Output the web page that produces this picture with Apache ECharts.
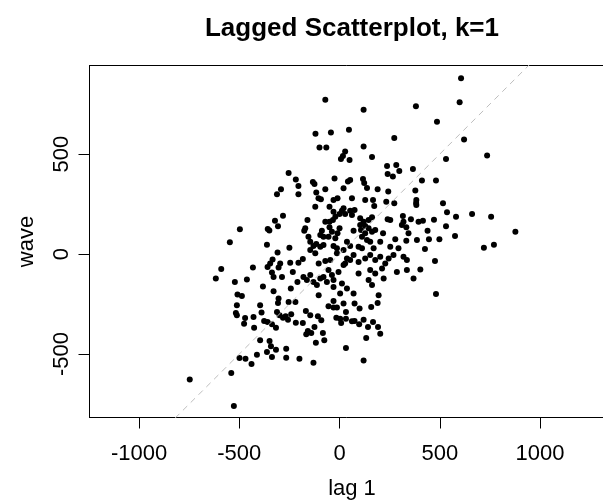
<!DOCTYPE html>
<html>
<head>
<meta charset="utf-8">
<script src="https://cdn.jsdelivr.net/npm/echarts@6/dist/echarts.min.js"></script>
<style>
html,body{margin:0;padding:0;background:#fff;}
#chart{width:603px;height:504px;}
</style>
</head>
<body>
<div id="chart"></div>
<script>
// lagged values (x) and current values (y)
const lag1 = [
  606,599,486,621,531,736,411,481,516,536, 581,661,756,416,471,439,531,576,877,446, 498,426,720,770,476,403,481,
  -71,120,381,-120,-43,47,273,
  -100,-66,120,28,17,7,50,162,237,283,
  298,240,266,366,-133,-125,-25,53,42,117,
  123,137,190,243,-116,-71,20,-105,-93,-30,
  -10,62,128,167,173,233,273,383,383,378,
  -121,-50,20,12,0,28,53,75,62,-30,
  -21,-71,-50,-33,-160,-171,-176,-88,-96,-80,
  -50,-38,-55,-21,0,-10,70,103,120,145,
  162,103,128,145,107,128,162,112,137,178,
  240,253,217,278,316,356,319,333,311,394,
  344,333,386,253,203,294,-155,-146,-130,-116,
  -96,-80,-30,-13,37,53,95,112,153,170,382,
  -254,-218,-205,-205,-292,-312,-282,-322,-358,-350, -307,-497,-547,-362,
  -250,-309,-205,-246,-334,-346,-359,-296,-304,-432,
  -590,-617,-522,-462,-382,-337,-329,-287,-243,-210,
  -233,-329,-304,-307,-254,-220,-509,-487,-512,-517,
  -512,-471,-476,-429,-426,-396,-389,-376,-359,-337,
  -317,-312,-299,-282,-269,-257,-241,-218,-396,-349,
  -342,-317,-362,-337,-266,-266,-200,-412,-499,-469,
  -439,-540,-747,-527,
  -30,20,75,100,158,190,-55,-30,-13,-168,
  -146,-108,-91,-183,-125,-158,-166,-141,-83,-118,
  -76,-16,3,8,32,32,62,75,98,120,
  142,167,192,203,133,32,-130,120,
  -183,-146,-121,-104,-71,-46,-13,20,37,28,
  53,70,95,128,153,178,203,228,245,269,
  319,336,-180,-163,-146,-130,-113,-96,-80,-63,
  -38,-30,-55,-5,20,95,153,178,212,220,
  145,162,286,336,369,-30,12,37,70,3,-104,195
];
const wave = [
  879,759,662,573,476,493,368,368,254,209, 187,201,187,167,172,117,139,90,112,74, 74,25,32,47,-35,-77,-199,
  772,722,739,602,608,622,580,
  533,533,538,513,491,475,471,485,441,446,
  416,400,388,426,360,350,378,371,363,375,
  355,330,324,313,308,324,329,279,274,271,
  279,279,271,271,241,262,254,271,246,318,
  237,237,229,217,201,201,217,221,196,212,
  187,162,162,171,171,129,117,117,95,87,
  134,112,87,79,129,104,117,179,162,171,
  184,145,140,129,120,104,112,87,70,120,
  174,171,104,74,191,174,162,134,145,162,
  104,67,70,37,62,29,87,62,40,50,
  37,45,40,29,62,40,37,29,62,29,256,
  406,373,341,299,324,299,192,167,126,118, 139,124,59,47,
  32,8,-43,-43,-27,-47,-64,-47,-67,-67,
  -75,-122,-139,-127,-162,-92,-114,-114,-172,-139,
  -89,-186,-222,-244,-239,-239,-202,-209,-256,-294,
  -306,-319,-348,-314,-368,-256,-292,-334,-339,-351,
  -368,-289,-306,-318,-311,-328,-301,-343,-431,-435,
  -461,-478,-490,-515,-473,-518,-523,-503,-520,-523,
  -550,-595,-627,-759,
  -234,-247,-247,-272,-264,-244,-261,-267,-267,-284,
  -306,-311,-331,-344,-365,-385,-401,-395,-395,-443,
  -431,-318,-323,-344,-323,-289,-336,-334,-351,-328,
  -364,-339,-364,-398,-420,-470,-543,-532,
  -25,20,4,-47,-35,-30,4,20,-22,-47,
  -30,-5,-39,-22,-5,-30,-13,-47,-22,-5,
  -13,-30,-114,-130,-105,-139,-155,-122,-114,-139,
  -105,-130,-80,-89,-55,-97,-80,-97,-72,-122,
  -130,-155,-89,-80,-122,-164,-147,-172,-197,-197,-206,-206
];
const xTicks = [-1000, -500, 0, 500, 1000];
const yTicks = [-500, 0, 500];
const refIntercept = 0;
const refSlope = 1;

// visible axis window (the plot box continues past the right edge of the image)
const xMin = -1247, xMax = 1314;
const yMin = -817, yMax = 943;

const points = lag1.map((v, i) => [v, wave[i]]);
const refLine = [[xMin, refIntercept + refSlope * xMin], [xMax, refIntercept + refSlope * xMax]];

const FONT = 'Liberation Sans, Arial, Helvetica, sans-serif';
const plain = v => String(v);
const chart = echarts.init(document.getElementById('chart'), null, {renderer: 'canvas'});
chart.setOption({
  animation: false,
  backgroundColor: '#ffffff',
  title: {
    text: 'Lagged Scatterplot, k=1',
    left: 352,
    textAlign: 'center',
    top: 16,
    padding: 0,
    textStyle: {fontFamily: FONT, fontSize: 26, fontWeight: 'bold', color: '#000'}
  },
  grid: {left: 89.5, top: 65.5, right: 0, bottom: 86.5, show: false},
  graphic: [{
    type: 'text', x: 352, y: 489, silent: true,
    style: {text: 'lag 1', font: '22px ' + FONT, fill: '#000', align: 'center', verticalAlign: 'middle'}
  }],
  xAxis: [{
    type: 'value', min: xMin, max: xMax, position: 'bottom',
    axisLine: {show: true, onZero: false, lineStyle: {color: '#000', width: 1}},
    splitLine: {show: false},
    axisTick: {show: true, length: 11, customValues: xTicks, lineStyle: {color: '#000', width: 1}},
    axisLabel: {customValues: xTicks, formatter: plain, margin: 25, fontFamily: FONT, fontSize: 22, color: '#000'}
  }, {
    type: 'value', min: xMin, max: xMax, position: 'top',
    axisLine: {show: true, onZero: false, lineStyle: {color: '#000', width: 1}},
    splitLine: {show: false}, axisTick: {show: false}, axisLabel: {show: false}
  }],
  yAxis: {
    type: 'value', min: yMin, max: yMax,
    name: 'wave', nameLocation: 'middle', nameGap: 52, nameRotate: 90,
    nameTextStyle: {fontFamily: FONT, fontSize: 22, color: '#000'},
    axisLine: {show: true, onZero: false, lineStyle: {color: '#000', width: 1}},
    splitLine: {show: false},
    axisTick: {show: true, length: 11, customValues: yTicks, lineStyle: {color: '#000', width: 1}},
    axisLabel: {customValues: yTicks, formatter: plain, rotate: 90, margin: 17, fontFamily: FONT, fontSize: 22, color: '#000'}
  },
  series: [
    {
      type: 'scatter',
      data: points,
      symbol: 'circle',
      symbolSize: 6,
      itemStyle: {color: '#000', opacity: 1},
      z: 2,
      silent: true
    },
    {
      type: 'line',
      data: refLine,
      symbol: 'none',
      clip: true,
      lineStyle: {color: '#bebebe', width: 1, type: [6, 5]},
      z: 3,
      silent: true
    }
  ]
});
</script>
</body>
</html>
